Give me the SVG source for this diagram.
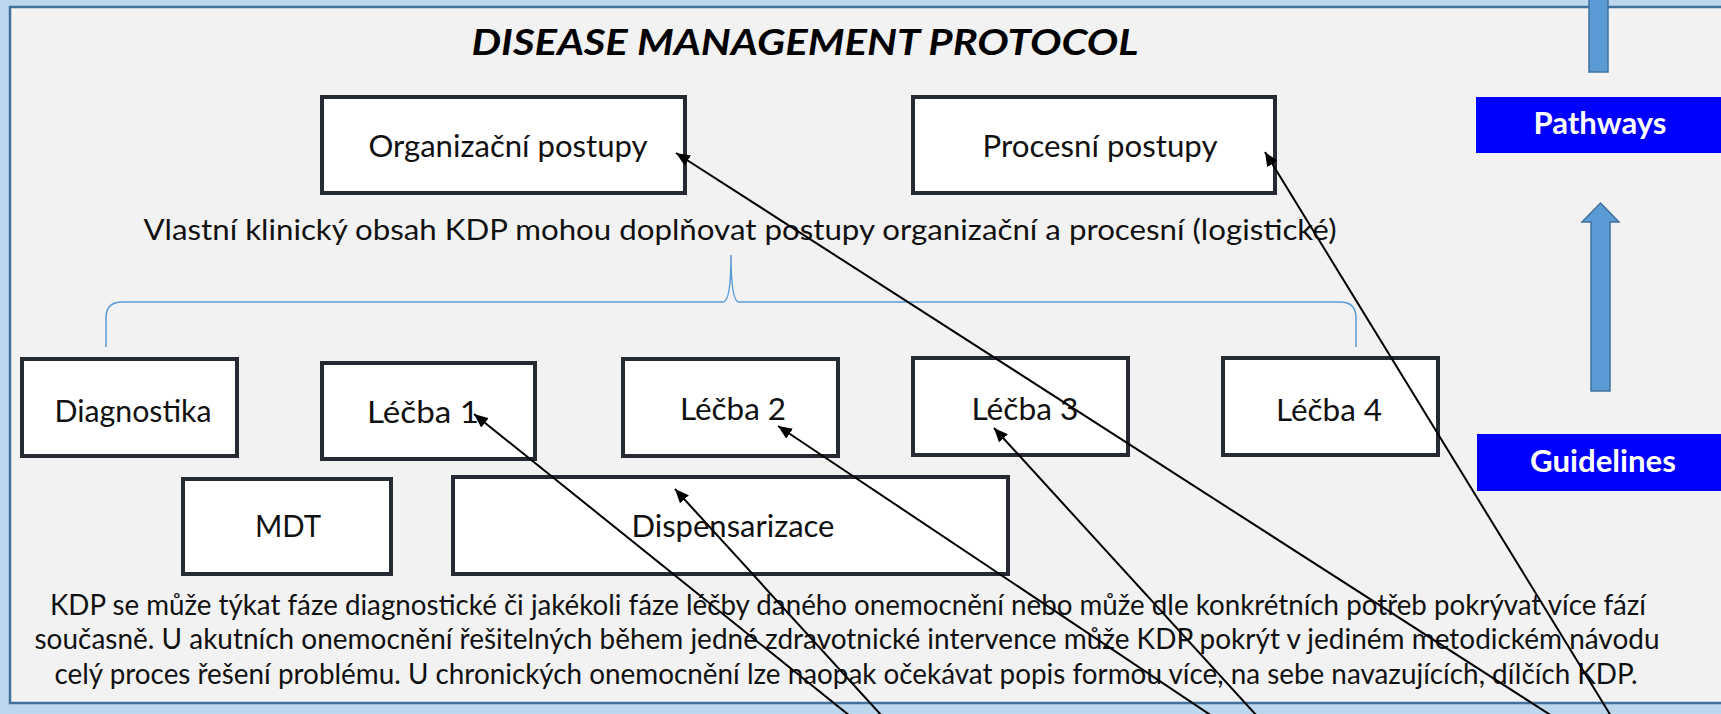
<svg xmlns="http://www.w3.org/2000/svg" width="1721" height="714" viewBox="0 0 1721 714">
<defs>
<style>
.box{fill:#ffffff;stroke:#262b33;stroke-width:4}
.t{font-family:Lato,"Liberation Sans",sans-serif;font-size:28px;fill:#111111;text-anchor:middle}
.bx{font-size:30px}
.bt{font-family:Lato,"Liberation Sans",sans-serif;font-size:30px;font-weight:bold;fill:#ffffff;text-anchor:middle}
.con{stroke:#000000;stroke-width:2;fill:none;marker-end:url(#ah)}
.brace{stroke:#5b9bd5;stroke-width:1.5;fill:none}
.blk{fill:#5b9bd5;stroke:#41719c;stroke-width:1.5}
</style>
<marker id="ah" viewBox="0 0 14 12" refX="14" refY="6" markerWidth="14" markerHeight="12" markerUnits="userSpaceOnUse" orient="auto">
<path d="M0,0 L14,6 L0,12 z" fill="#000000"/>
</marker>
</defs>
<rect x="0" y="0" width="1721" height="714" fill="#bdd7ee"/>
<rect x="10" y="7" width="1730" height="696" fill="#f2f2f2" stroke="#41719c" stroke-width="2.5"/>

<text x="805" y="55" font-family="Lato,'Liberation Sans',sans-serif" font-size="36" font-weight="bold" font-style="italic" fill="#000000" text-anchor="middle" textLength="667" lengthAdjust="spacingAndGlyphs">DISEASE MANAGEMENT PROTOCOL</text>

<g id="org"><rect class="box" x="322" y="97" width="363" height="96"/><text class="t bx" x="508" y="157" textLength="279" lengthAdjust="spacingAndGlyphs">Organizační postupy</text></g>
<g id="proc"><rect class="box" x="913" y="97" width="362" height="96"/><text class="t bx" x="1100" y="157" textLength="235" lengthAdjust="spacingAndGlyphs">Procesní postupy</text></g>

<text class="t" x="740" y="240" textLength="1193" lengthAdjust="spacingAndGlyphs">Vlastní klinický obsah KDP mohou doplňovat postupy organizační a procesní (logistické)</text>

<path class="brace" d="M106,347 L106,318 Q106,302 122,302 L723,302 Q731,302 731,255 Q731,302 739,302 L1340,302 Q1356,302 1356,318 L1356,347"/>

<g id="diag"><rect class="box" x="22" y="359" width="215" height="97"/><text class="t bx" x="133" y="422" textLength="157" lengthAdjust="spacingAndGlyphs">Diagnostika</text></g>
<g id="lecba1"><rect class="box" x="322" y="363" width="213" height="96"/><text class="t bx" x="423" y="423" textLength="112" lengthAdjust="spacingAndGlyphs">Léčba 1</text></g>
<g id="lecba2"><rect class="box" x="623" y="359" width="215" height="97"/><text class="t bx" x="733" y="420" textLength="106" lengthAdjust="spacingAndGlyphs">Léčba 2</text></g>
<g id="lecba3"><rect class="box" x="913" y="358" width="215" height="97"/><text class="t bx" x="1025" y="420" textLength="107" lengthAdjust="spacingAndGlyphs">Léčba 3</text></g>
<g id="lecba4"><rect class="box" x="1223" y="358" width="215" height="97"/><text class="t bx" x="1329" y="421" textLength="106" lengthAdjust="spacingAndGlyphs">Léčba 4</text></g>
<g id="mdt"><rect class="box" x="183" y="479" width="208" height="95"/><text class="t bx" x="288" y="537" textLength="66" lengthAdjust="spacingAndGlyphs">MDT</text></g>
<g id="disp"><rect class="box" x="453" y="477" width="555" height="97"/><text class="t bx" x="733" y="537" textLength="203" lengthAdjust="spacingAndGlyphs">Dispensarizace</text></g>

<text class="t" x="848" y="615" textLength="1596" lengthAdjust="spacingAndGlyphs">KDP se může týkat fáze diagnostické či jakékoli fáze léčby daného onemocnění nebo může dle konkrétních potřeb pokrývat více fází</text>
<text class="t" x="847" y="649" textLength="1625" lengthAdjust="spacingAndGlyphs">současně. U akutních onemocnění řešitelných během jedné zdravotnické intervence může KDP pokrýt v jediném metodickém návodu</text>
<text class="t" x="846" y="684" textLength="1583" lengthAdjust="spacingAndGlyphs">celý proces řešení problému. U chronických onemocnění lze naopak očekávat popis formou více, na sebe navazujících, dílčích KDP.</text>

<g id="pathways"><rect x="1476" y="97" width="250" height="56" fill="#0000ff"/><text class="bt" x="1600" y="134" textLength="133" lengthAdjust="spacingAndGlyphs">Pathways</text></g>
<g id="guidelines"><rect x="1477" y="434" width="250" height="57" fill="#0000ff"/><text class="bt" x="1603" y="472" textLength="146" lengthAdjust="spacingAndGlyphs">Guidelines</text></g>

<g id="blockarrows">
<rect class="blk" x="1589" y="-5" width="19" height="77"/>
<path class="blk" d="M1591,391 L1591,222 L1582,222 L1600.5,203 L1619,222 L1610,222 L1610,391 Z"/>
</g>

<g id="connectors">
<line class="con" x1="850" y1="716" x2="474" y2="414"/>
<line class="con" x1="882" y1="716" x2="675" y2="489"/>
<line class="con" x1="1212" y1="716" x2="778" y2="426"/>
<line class="con" x1="1257" y1="716" x2="994" y2="428"/>
<line class="con" x1="1552" y1="716" x2="676" y2="153"/>
<line class="con" x1="1611" y1="716" x2="1265" y2="152"/>
</g>
</svg>
